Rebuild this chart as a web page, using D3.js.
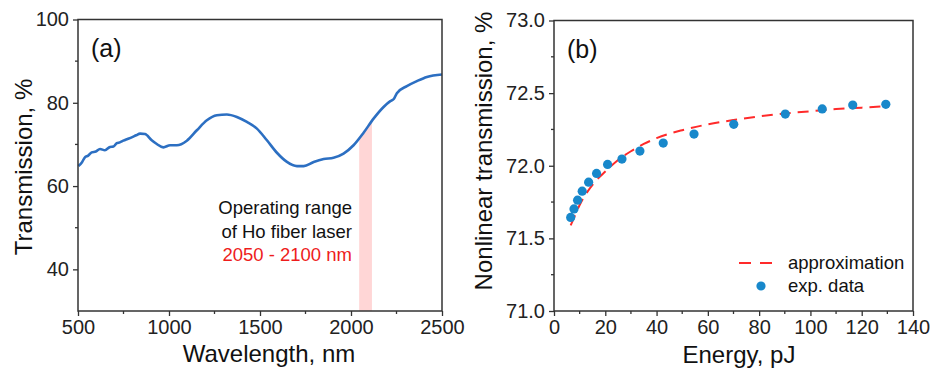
<!DOCTYPE html>
<html>
<head>
<meta charset="utf-8">
<script src="https://cdn.jsdelivr.net/npm/d3@7"></script>
<style>
  body { margin: 0; background: #fff; }
  svg { font-family: Arial, "Liberation Sans", sans-serif; }
</style>
</head>
<body>
<svg id="chart" width="933" height="370"></svg>
<script>
// panel (a): transmission spectrum
const wavelength = [502, 520, 538, 556, 575, 598, 621, 648, 676, 695, 713, 730, 749, 772, 795, 820, 841, 868, 905, 933, 969, 1006, 1043, 1098,
  1153, 1208, 1263, 1318, 1373, 1428, 1483, 1538, 1593, 1648, 1703, 1740, 1795, 1850, 1904, 1959, 2014,
  2069, 2124, 2179, 2216, 2235, 2252, 2307, 2362, 2417, 2500];
const transmission = [64.8, 65.6, 66.9, 67.3, 68.1, 68.3, 68.9, 68.6, 69.4, 69.5, 70.3, 70.5, 70.9, 71.3, 71.7, 72.2, 72.6, 72.5, 71.0, 70.1, 69.3, 69.8, 69.8, 70.9,
  73.4, 75.8, 77.0, 77.2, 76.6, 75.4, 73.8, 71.0, 68.0, 65.8, 64.8, 64.8, 65.8, 66.5, 66.8, 67.8, 69.8,
  72.8, 76.2, 79.0, 80.4, 80.9, 82.3, 84.0, 85.2, 86.2, 86.8];
const shadeRange = [2045, 2115];
const noteLines = ["Operating range", "of Ho fiber laser", "2050 - 2100 nm"];

const aXTicks = [500, 1000, 1500, 2000, 2500];
const aXMinor = [750, 1250, 1750, 2250];
const aYTicks = [40, 60, 80, 100];
const aYMinor = [50, 70, 90];

// panel (b): nonlinear transmission
const energy = [6.5, 7.8, 9.2, 11.0, 13.5, 16.6, 20.9, 26.5, 33.5, 42.6, 54.6, 70.1, 90.2, 104.6, 116.5, 129.4];
const nlTrans = [71.644, 71.703, 71.763, 71.825, 71.887, 71.947, 72.009, 72.046, 72.101, 72.156, 72.218, 72.285,
  72.356, 72.391, 72.418, 72.423];
const fitEnergy = [6.5, 8, 10, 13, 16, 20, 25, 30, 35, 40, 50, 60, 70, 80, 90, 100, 110, 120, 130];
const fitTrans = [71.59, 71.65, 71.73, 71.82, 71.89, 71.96, 72.04, 72.10, 72.15, 72.19, 72.245, 72.285, 72.315,
  72.34, 72.36, 72.375, 72.39, 72.40, 72.41];

const bXTicks = [0, 20, 40, 60, 80, 100, 120, 140];
const bXMinor = [10, 30, 50, 70, 90, 110, 130];
const bYTicks = [71.0, 71.5, 72.0, 72.5, 73.0];
const bYMinor = [71.25, 71.75, 72.25, 72.75];

const svg = d3.select("#chart");
const frameColor = "#333";

function drawFrame(g, x, y, xt, xm, yt, ym, yfmt) {
  const [x0, x1] = x.range();
  const [y0, y1] = y.range();
  const xa = g.append("g").attr("transform", `translate(0,${y0})`)
    .call(d3.axisBottom(x).tickValues(xt).tickSize(5).tickSizeOuter(0).tickPadding(4).tickFormat(d3.format("d")));
  xa.append("g").selectAll("line").data(xm).join("line")
    .attr("x1", d => x(d)).attr("x2", d => x(d)).attr("y1", 0).attr("y2", 3);
  const ya = g.append("g").attr("transform", `translate(${x0},0)`)
    .call(d3.axisLeft(y).tickValues(yt).tickSize(5).tickSizeOuter(0).tickPadding(4).tickFormat(yfmt));
  ya.append("g").selectAll("line").data(ym).join("line")
    .attr("y1", d => y(d)).attr("y2", d => y(d)).attr("x1", 0).attr("x2", -3);
  [xa, ya].forEach(a => {
    a.select(".domain").remove();
    a.selectAll("line").attr("stroke", frameColor).attr("stroke-width", 1.3);
    a.selectAll("text").attr("font-size", 20).attr("fill", "#222");
  });
  g.append("rect")
    .attr("x", x0).attr("y", y1).attr("width", x1 - x0).attr("height", y0 - y1)
    .attr("fill", "none").attr("stroke", frameColor).attr("stroke-width", 1.5);
}

// ---------- panel (a)
const xa = d3.scaleLinear().domain([500, 2500]).range([78, 442]);
const ya = d3.scaleLinear().domain([30, 100]).range([311, 19.5]);
const ga = svg.append("g");
const specData = wavelength.map((w, i) => ({ w, t: transmission[i] }));

svg.append("clipPath").attr("id", "shadeClip").append("rect")
  .attr("x", xa(shadeRange[0])).attr("width", xa(shadeRange[1]) - xa(shadeRange[0]))
  .attr("y", 0).attr("height", 370);

ga.append("path")
  .datum(specData)
  .attr("clip-path", "url(#shadeClip)")
  .attr("fill", "#ffd6d6")
  .attr("d", d3.area().x(d => xa(d.w)).y0(ya(30)).y1(d => ya(d.t)).curve(d3.curveMonotoneX));

ga.append("path")
  .datum(specData)
  .attr("fill", "none")
  .attr("stroke", "#2c6fc2")
  .attr("stroke-width", 2.6)
  .attr("d", d3.line().x(d => xa(d.w)).y(d => ya(d.t)).curve(d3.curveMonotoneX));

drawFrame(ga, xa, ya, aXTicks, aXMinor, aYTicks, aYMinor, d3.format("d"));

ga.selectAll(".note").data(noteLines).join("text")
  .attr("x", 352).attr("y", (d, i) => 214 + i * 23.5)
  .attr("text-anchor", "end").attr("font-size", 18.5)
  .attr("fill", (d, i) => i === 2 ? "#ee1c1c" : "#111")
  .text(d => d);

ga.append("text").attr("x", 91).attr("y", 57).attr("font-size", 25).attr("fill", "#111").text("(a)");
ga.append("text").attr("x", 269).attr("y", 362).attr("text-anchor", "middle")
  .attr("font-size", 24).attr("fill", "#111").text("Wavelength, nm");
ga.append("text").attr("transform", "translate(32,167) rotate(-90)").attr("text-anchor", "middle")
  .attr("font-size", 24).attr("fill", "#111").text("Transmission, %");

// ---------- panel (b)
const xb = d3.scaleLinear().domain([0, 140]).range([554, 913]);
const yb = d3.scaleLinear().domain([71, 73]).range([311, 20.5]);
const gb = svg.append("g");

drawFrame(gb, xb, yb, bXTicks, bXMinor, bYTicks, bYMinor, d3.format(".1f"));

gb.append("path")
  .datum(fitEnergy.map((e, i) => ({ e, t: fitTrans[i] })))
  .attr("fill", "none")
  .attr("stroke", "#ff2a2a")
  .attr("stroke-width", 2)
  .attr("stroke-dasharray", "11,7")
  .attr("d", d3.line().x(d => xb(d.e)).y(d => yb(d.t)).curve(d3.curveMonotoneX));

gb.selectAll(".dot").data(energy.map((e, i) => ({ e, t: nlTrans[i] }))).join("circle")
  .attr("cx", d => xb(d.e)).attr("cy", d => yb(d.t)).attr("r", 4.6)
  .attr("fill", "#1888cb");

gb.append("text").attr("x", 567).attr("y", 58).attr("font-size", 25).attr("fill", "#111").text("(b)");
gb.append("text").attr("x", 739).attr("y", 363).attr("text-anchor", "middle")
  .attr("font-size", 24).attr("fill", "#111").text("Energy, pJ");
gb.append("text").attr("transform", "translate(492,151) rotate(-90)").attr("text-anchor", "middle")
  .attr("font-size", 24).attr("fill", "#111").text("Nonlinear transmission, %");

// legend
const leg = gb.append("g");
leg.append("line").attr("x1", 739).attr("x2", 772).attr("y1", 263).attr("y2", 263)
  .attr("stroke", "#ff2a2a").attr("stroke-width", 2).attr("stroke-dasharray", "12,9");
leg.append("text").attr("x", 788).attr("y", 269).attr("font-size", 18.5).attr("fill", "#111").text("approximation");
leg.append("circle").attr("cx", 761).attr("cy", 286).attr("r", 4.6).attr("fill", "#1888cb");
leg.append("text").attr("x", 788).attr("y", 292).attr("font-size", 18.5).attr("fill", "#111").text("exp. data");
</script>
</body>
</html>
